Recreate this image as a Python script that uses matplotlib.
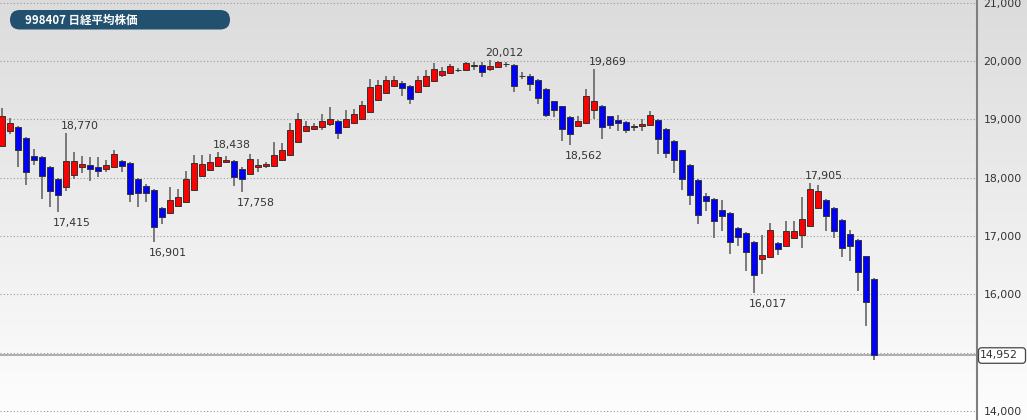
import matplotlib
matplotlib.use('Agg')
import matplotlib.pyplot as plt
import numpy as np
from matplotlib.patches import FancyBboxPatch
from matplotlib.transforms import IdentityTransform

title = "998407 日経平均株価"

opens = [18549, 18794, 18862, 18674, 18377, 18348, 18189, 17983, 17834, 18051,
         18177, 18211, 18189, 18149, 18183, 18291, 18252, 17978, 17851, 17794,
         17481, 17395, 17508, 17589, 17794, 18022, 18137, 18194, 18274, 18291,
         18149, 18063, 18189, 18194, 18206, 18297, 18382, 18605, 18806, 18840,
         18862, 18921, 18977, 18869, 18938, 19011, 19126, 19325, 19457, 19565,
         19623, 19577, 19469, 19565, 19651, 19754, 19795, 19851, 19851, 19908,
         19925, 19863, 19898, 19949, 19937, 19749, 19749, 19680, 19526, 19308,
         19222, 19034, 18891, 18938, 19166, 19234, 19051, 18983, 18960, 18891,
         18879, 18897, 18994, 18835, 18634, 18468, 18223, 17966, 17680, 17635,
         17451, 17395, 17138, 17052, 16891, 16606, 16640, 16880, 16834, 16966,
         17023, 17165, 17481, 17623, 17481, 17280, 17035, 16937, 16651, 16269]
highs = [19200, 19023, 18880, 18691, 18492, 18365, 18206, 18000, 18770, 18434,
         18377, 18355, 18348, 18297, 18480, 18309, 18263, 17988, 17892, 17806,
         17498, 17841, 17806, 18108, 18382, 18382, 18406, 18438, 18365, 18309,
         18177, 18411, 18326, 18263, 18612, 18595, 18938, 19109, 18977, 18938,
         19092, 19212, 18994, 19166, 19178, 19308, 19697, 19680, 19749, 19737,
         19651, 19594, 19737, 19851, 19966, 19891, 19954, 19886, 19990, 19985,
         19990, 20012, 19995, 19983, 19950, 19806, 19778, 19690, 19535, 19320,
         19235, 19050, 19063, 19520, 19869, 19240, 19063, 19080, 18980, 18926,
         19006, 19137, 19006, 18850, 18650, 18480, 18235, 17980, 17738, 17650,
         17611, 17410, 17160, 17070, 16910, 17011, 17223, 16890, 17263, 17251,
         17663, 17905, 17880, 17640, 17495, 17295, 17109, 16950, 16660, 16280]
lows = [18530, 18754, 18183, 17880, 18211, 17635, 17498, 17415, 17765, 17983,
        18080, 17937, 18005, 18091, 18170, 18091, 17583, 17498, 17577, 16901,
        17206, 17380, 17500, 17580, 17780, 18010, 18120, 18180, 18252, 17851,
        17758, 18050, 18091, 18170, 18190, 18280, 18370, 18590, 18777, 18823,
        18811, 18891, 18663, 18850, 18920, 19000, 19110, 19310, 19440, 19550,
        19406, 19269, 19455, 19550, 19640, 19726, 19780, 19812, 19840, 19840,
        19726, 19822, 19890, 19898, 19462, 19692, 19479, 19269, 19040, 19040,
        18634, 18562, 18880, 18920, 19006, 18663, 18840, 18794, 18766, 18794,
        18806, 18890, 18406, 18338, 18080, 17782, 17525, 17206, 17434, 16966,
        17080, 16692, 16822, 16406, 16017, 16354, 16630, 16668, 16820, 16950,
        16795, 17150, 17470, 17091, 16966, 16640, 16565, 16051, 15451, 14880]
closes = [19051, 18938, 18480, 18091, 18309, 18022, 17765, 17697, 18280, 18291,
          18240, 18154, 18120, 18218, 18406, 18194, 17721, 17738, 17738, 17155,
          17326, 17623, 17669, 17983, 18252, 18240, 18263, 18348, 18309, 18005,
          17978, 18321, 18223, 18234, 18382, 18480, 18823, 19011, 18879, 18879,
          18977, 19011, 18766, 19006, 19097, 19246, 19548, 19582, 19668, 19680,
          19531, 19354, 19668, 19749, 19869, 19834, 19920, 19851, 19966, 19937,
          19812, 19920, 19977, 19949, 19565, 19749, 19611, 19366, 19080, 19154,
          18840, 18749, 18977, 19406, 19308, 18862, 18909, 18938, 18811, 18862,
          18921, 19080, 18663, 18423, 18309, 17978, 17697, 17366, 17594, 17251,
          17349, 16891, 16983, 16726, 16325, 16668, 17109, 16778, 17091, 17091,
          17292, 17806, 17777, 17337, 17080, 16795, 16834, 16377, 15869, 14952]

y_ticks = [14000, 15000, 16000, 17000, 18000, 19000, 20000, 21000]
# the 15,000 label is hidden behind the current-price box in the reference
y_tick_labels = ["14,000", "", "16,000", "17,000", "18,000", "19,000", "20,000", "21,000"]
last_price = 14952
hi_labels = [8, 27, 61, 74, 101]
lo_labels = [7, 19, 30, 71, 94]

W, H = 1027, 420
dpi = 100
fig = plt.figure(figsize=(W / dpi, H / dpi), dpi=dpi)

# gradient background
bg = fig.add_axes([0, 0, 1, 1], zorder=-10)
grad = np.linspace(0.862, 0.995, 256).reshape(-1, 1)
bg.imshow(np.dstack([grad, grad, grad]), aspect='auto', extent=[0, 1, 0, 1], origin='upper')
bg.set_xlim(0, 1)
bg.set_ylim(0, 1)
bg.axis('off')

axis_px = 976.5
ax = fig.add_axes([0, 0, axis_px / W, 1])
ax.set_facecolor('none')

n = len(opens)
x = np.arange(n)
o = np.array(opens)
c = np.array(closes)
hi = np.array(highs)
lo = np.array(lows)

ax.set_xlim(-0.25, -0.25 + axis_px / 8.0)
ax.set_ylim(13846, 21046)

colors = ['#ff0000' if cc > oo else ('#0000ff' if cc < oo else '#222222') for oo, cc in zip(o, c)]
ax.vlines(x, lo, hi, color='#666666', lw=1.2, zorder=2)
ax.bar(x, np.abs(c - o), bottom=np.minimum(o, c), width=0.75, color=colors,
       edgecolor='#333333', linewidth=0.7, zorder=3)

ax.axhline(last_price, color='#a8a8a8', lw=1.3, zorder=1.5)

ax.set_yticks(y_ticks)
ax.set_yticklabels(y_tick_labels)
ax.yaxis.tick_right()
ax.tick_params(axis='y', length=0, pad=5, labelsize=7.8, labelcolor='#333333')
ax.set_xticks([])
ax.yaxis.grid(True, color='#9a9a9a', linestyle=(0, (1, 2)), lw=0.8)
ax.set_axisbelow(True)
for s in ['top', 'left', 'bottom']:
    ax.spines[s].set_visible(False)
ax.spines['right'].set_color('#7f7f7f')
ax.spines['right'].set_linewidth(1.5)

for i in hi_labels:
    ax.annotate(f"{highs[i]:,}", xy=(i, highs[i]), xytext=(-5, 4), textcoords='offset pixels',
                ha='left', va='baseline', fontsize=7.8, color='#333333')
for i in lo_labels:
    ax.annotate(f"{lows[i]:,}", xy=(i, lows[i]), xytext=(-5, -6), textcoords='offset pixels',
                ha='left', va='top', fontsize=7.8, color='#333333')

# current price box
py = ax.transData.transform((0, last_price))[1]
fig.add_artist(FancyBboxPatch((978.5, py - 7.8), 47, 15.5,
                              boxstyle='round,pad=0,rounding_size=3',
                              fc='white', ec='#444444', lw=0.9,
                              transform=IdentityTransform()))
fig.text(980, py, f"{last_price:,}", transform=IdentityTransform(),
         ha='left', va='center', fontsize=7.8, color='#333333')

# title badge
fig.add_artist(FancyBboxPatch((10, H - 29.5), 220, 19.5,
                              boxstyle='round,pad=0,rounding_size=9.75',
                              fc='#22506f', ec='none', transform=IdentityTransform()))
fig.text(25, H - 19.8, title, transform=IdentityTransform(), ha='left', va='center',
         fontsize=8.3, color='white', weight='bold',
         family=['Noto Sans CJK JP', 'DejaVu Sans'])

fig.savefig('out.png', dpi=dpi)
